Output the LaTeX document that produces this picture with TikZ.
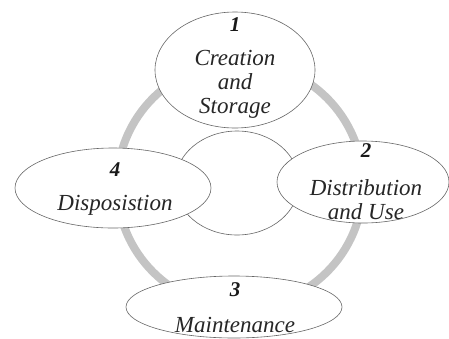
\documentclass[tikz,border=0pt]{standalone}
\usepackage{fontspec}
\setmainfont{Liberation Serif}
\usetikzlibrary{shapes.geometric}
\begin{document}
\begin{tikzpicture}[x=1pt,y=-1pt,
  ring/.style={draw=black!23,line width=8pt},
  phase/.style={ellipse,draw=black!60,line width=0.6pt,fill=white,inner sep=0pt},
  num/.style={font=\fontsize{21}{22}\selectfont\bfseries\itshape,text=black!90},
  lbl/.style={font=\fontsize{23}{24}\selectfont\itshape,text=black!85,align=center,inner sep=0pt}]
  \useasboundingbox (0,0) rectangle (449,338);
  % life-cycle ring
  \node[circle,ring,minimum size=246pt,inner sep=0pt] (cycle) at (240,185) {};
  % central hub
  \node[phase,minimum width=124pt,minimum height=104pt] (hub) at (237,183) {};
  % phase ellipses
  \node[phase,minimum width=196pt,minimum height=80pt] (e4) at (113,188) {};
  \node[phase,minimum width=172pt,minimum height=82pt] (e2) at (363,182) {};
  \node[phase,minimum width=160pt,minimum height=116pt] (e1) at (235,70) {};
  \node[phase,minimum width=216pt,minimum height=62pt] (e3) at (234,307) {};
  % labels
  \node[num] (n1) at (235,25) {1};
  \node[lbl] (t1) at (235,84) {Creation\\and\\Storage};
  \node[num] (n2) at (366,151) {2};
  \node[lbl] (t2) at (366,200) {Distribution\\and Use};
  \node[num] (n4) at (115,170) {4};
  \node[lbl] (t4) at (115,205) {Disposistion};
  \node[num] (n3) at (235,290) {3};
  \node[lbl] (t3) at (235,325) {Maintenance};
\end{tikzpicture}
\end{document}
